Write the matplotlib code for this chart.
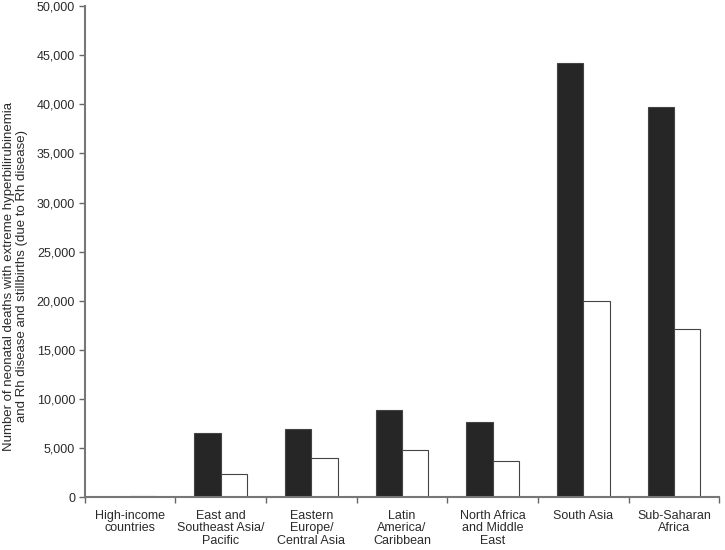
import numpy as np
import matplotlib
matplotlib.use("Agg")
from matplotlib import pyplot as plt
from matplotlib.ticker import FuncFormatter

plt.rcParams["font.family"] = ["Liberation Sans", "DejaVu Sans"]

regions = [
    "High-income\ncountries",
    "East and\nSoutheast Asia/\nPacific",
    "Eastern\nEurope/\nCentral Asia",
    "Latin\nAmerica/\nCaribbean",
    "North Africa\nand Middle\nEast",
    "South Asia",
    "Sub-Saharan\nAfrica",
]
neonatal_deaths = [60, 6550, 6970, 8830, 7690, 44200, 39700]
stillbirths = [120, 2350, 3970, 4830, 3720, 19950, 17100]

fig = plt.figure(figsize=(7.25, 5.5), dpi=100)
ax = fig.add_axes([0.117, 0.096, 0.875, 0.893])

x = np.arange(len(regions))
w = 0.29
ax.bar(x - w / 2, neonatal_deaths, w, color="#262626", edgecolor="#444444", linewidth=0.8)
ax.bar(x + w / 2, stillbirths, w, color="white", edgecolor="#444444", linewidth=0.8)

ax.set_xlim(-0.5, len(regions) - 0.5)
ax.set_ylim(0, 50000)
ax.set_yticks(np.arange(0, 50001, 5000))
ax.yaxis.set_major_formatter(FuncFormatter(lambda v, p: "{:,.0f}".format(v)))

# category labels centred, ticks on the boundaries
ax.set_xticks(x)
ax.set_xticklabels(regions, fontsize=9, color="#2a2a2a", linespacing=1.05)
ax.tick_params(axis="x", which="major", length=0, pad=9)
ax.set_xticks(np.arange(-0.5, len(regions) - 0.4, 1), minor=True)
ax.tick_params(axis="x", which="minor", length=4, width=1, color="#666666", direction="out")
ax.tick_params(axis="y", length=4, width=1, color="#666666", labelsize=9,
               labelcolor="#2a2a2a", direction="out", pad=3)

for s in ["top", "right"]:
    ax.spines[s].set_visible(False)
for s in ["left", "bottom"]:
    ax.spines[s].set_color("#777777")
    ax.spines[s].set_linewidth(1.5)

ax.set_ylabel("Number of neonatal deaths with extreme hyperbilirubinemia\n"
              "and Rh disease and stillbirths (due to Rh disease)",
              fontsize=9.5, color="#2a2a2a", linespacing=1.05)
ax.yaxis.set_label_coords(-0.09, 0.45)

fig.savefig("out.png", dpi=100)
